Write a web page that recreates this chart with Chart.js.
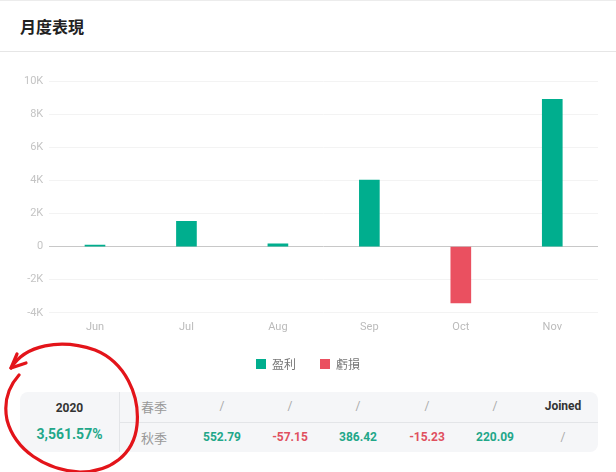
<!DOCTYPE html>
<html lang="zh-Hant">
<head>
<meta charset="UTF-8">
<title>月度表現</title>
<script src="https://cdn.jsdelivr.net/npm/chart.js"></script>
<style>
    body {
        margin: 0;
        width: 616px;
        height: 472px;
        background: #fff;
        font-family: Roboto, "Noto Sans CJK TC", sans-serif;
        position: relative;
        overflow: hidden;
    }
    .topline {
        position: absolute; left: 0; top: 0; width: 616px; height: 1px; background: #ececec;
    }
    .title {
        position: absolute; left: 20px; top: 14px;
        font-family: "Noto Sans CJK TC", sans-serif;
        font-size: 16px; font-weight: bold; color: #222;
    }
    .divider {
        position: absolute; left: 0; top: 51px; width: 616px; height: 1px; background: #e6e6e6;
    }
    .chartbox {
        position: absolute; left: 0; top: 65px; width: 616px; height: 315px;
    }
    .table {
        position: absolute; left: 20px; top: 392px; width: 578px; height: 60px;
        background: #f5f6f8; border-radius: 8px;
    }
    .year {
        position: absolute; left: 0; top: 0; width: 99px; height: 60px;
        border-right: 1px solid #e3e5e8; text-align: center;
    }
    .year .y { position: absolute; top: 9px; width: 100%; font-size: 12px; font-weight: bold; color: #333; }
    .year .p { position: absolute; top: 34px; width: 100%; font-size: 14px; font-weight: bold; color: #22a789; }
    .row {
        position: absolute; left: 100px; width: 478px; height: 30px;
    }
    .row.r2 { top: 30px; border-top: 1px solid #e3e5e8; height: 29px; }
    .cell {
        position: absolute; top: 7px; font-size: 12px; transform: translateX(-50%);
        white-space: nowrap;
    }
    .lab { color: #999; font-family: "Noto Sans CJK TC", sans-serif; font-size: 13px; top: 5px; }
    .slash { color: #aaa; }
    .g { color: #22a789; font-weight: bold; }
    .r { color: #e0505f; font-weight: bold; }
    .k { color: #333; font-weight: bold; }
    svg.mark { position: absolute; left: 0; top: 0; pointer-events: none; }
</style>
</head>
<body>

<div class="topline"></div>
<div class="title">月度表現</div>
<div class="divider"></div>

<div class="chartbox"><canvas id="monthly"></canvas></div>

<div class="table">
    <div class="year">
        <div class="y">2020</div>
        <div class="p">3,561.57%</div>
    </div>
    <div class="row r1" id="row1"></div>
    <div class="row r2" id="row2"></div>
</div>

<!-- hand drawn red circle round the year cell -->
<svg class="mark" width="616" height="472">
    <path d="M 11 368 C 25 345, 60 338, 95 350 C 125 362, 140 395, 137 425 C 134 455, 110 472, 80 472 C 45 470, 15 450, 7 420 C 3 400, 10 385, 19 375"
          fill="none" stroke="#e3141a" stroke-width="3.2" stroke-linecap="round"/>
    <path d="M 11 368 L 26 363 M 11 368 L 17 354"
          fill="none" stroke="#e3141a" stroke-width="3.2" stroke-linecap="round"/>
</svg>

<script>
    // chart data
    const months = ['Jun', 'Jul', 'Aug', 'Sep', 'Oct', 'Nov'];
    const profit = [90, 1530, 160, 4020, null, 8890];
    const loss = [null, null, null, null, -3410, null];

    // table data
    const springRow = ['/', '/', '/', '/', '/', 'Joined'];
    const autumnRow = ['552.79', '-57.15', '386.42', '-15.23', '220.09', '/'];
    const colCenters = [102, 170, 238, 307, 375, 443];

    function fillRow(id, label, values) {
        let row = document.getElementById(id);
        let l = document.createElement('div');
        l.className = 'cell lab';
        l.style.left = '34px';
        l.textContent = label;
        row.appendChild(l);
        values.forEach(function (v, i) {
            let c = document.createElement('div');
            let cls = 'slash';
            if (v === 'Joined') cls = 'k';
            else if (v !== '/') cls = v.startsWith('-') ? 'r' : 'g';
            c.className = 'cell ' + cls;
            c.style.left = colCenters[i] + 'px';
            c.textContent = v;
            row.appendChild(c);
        });
    }
    fillRow('row1', '春季', springRow);
    fillRow('row2', '秋季', autumnRow);

    const config = {
        type: 'bar',
        data: {
            labels: months,
            datasets: [{
                label: '盈利',
                backgroundColor: 'rgb(0,174,142)',
                data: profit,
                barThickness: 20
            }, {
                label: '虧損',
                backgroundColor: 'rgb(234,80,96)',
                data: loss,
                barThickness: 20
            }]
        },
        options: {
            responsive: true,
            maintainAspectRatio: false,
            animation: false,
            layout: { padding: { left: 18, right: 18, top: 16, bottom: 0 } },
            plugins: {
                tooltip: { enabled: false },
                legend: {
                    position: 'bottom',
                    labels: {
                        boxWidth: 10,
                        boxHeight: 10,
                        padding: 24,
                        color: '#777',
                        font: { family: '"Noto Sans CJK TC", sans-serif', size: 12 }
                    }
                }
            },
            scales: {
                x: {
                    stacked: true,
                    grid: { display: false },
                    border: { display: false },
                    ticks: { color: '#bbb', font: { family: 'Roboto', size: 11 }, padding: 0 }
                },
                y: {
                    stacked: true,
                    min: -4000,
                    max: 10000,
                    border: { display: false },
                    grid: {
                        drawTicks: false,
                        color: function (ctx) {
                            return ctx.tick && ctx.tick.value === 0 ? '#c8c8c8' : '#f3f3f3';
                        }
                    },
                    ticks: {
                        stepSize: 2000,
                        padding: 6,
                        color: '#c4c4c4',
                        font: { family: 'Roboto', size: 11 },
                        callback: function (v) { return v === 0 ? '0' : (v / 1000) + 'K'; }
                    }
                }
            }
        }
    };

    new Chart(document.getElementById('monthly'), config);
</script>
</body>
</html>
